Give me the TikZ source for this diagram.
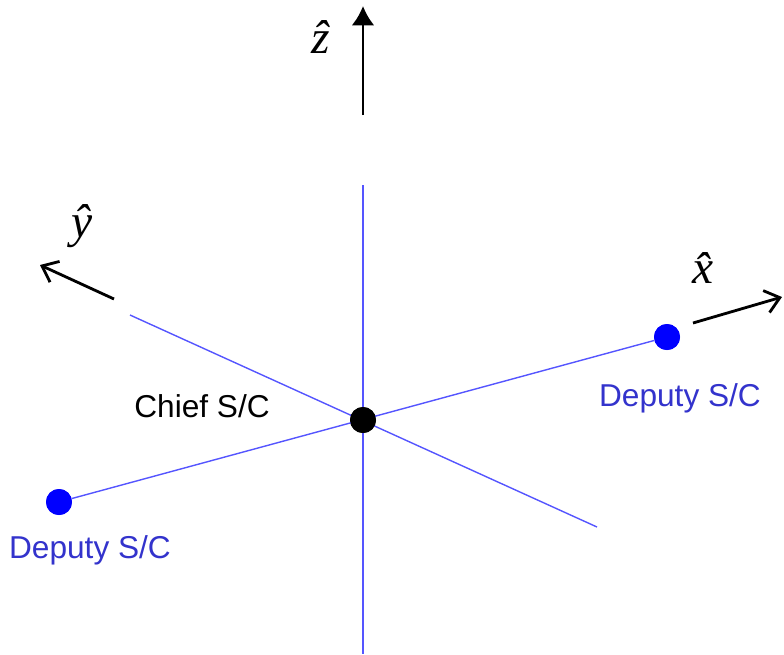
\documentclass[tikz,border=0pt]{standalone}
\usepackage{fontspec}
\newfontfamily\arialfont{Liberation Sans}
\newfontfamily\timesfont{Liberation Serif}
\usetikzlibrary{arrows.meta}
\definecolor{axisblue}{RGB}{85,85,255}
\definecolor{labelblue}{RGB}{51,51,204}
\tikzset{
	sc/.style={circle,inner sep=0pt,minimum size=0.52cm},
	sclabel/.style={font=\arialfont\fontsize{18}{20}\selectfont},
	axislabel/.style={font=\timesfont\itshape\fontsize{27}{30}\selectfont},
	frameline/.style={axisblue,line width=0.8pt},
}
\begin{document}
\begin{tikzpicture}[x=0.02cm,y=-0.02cm]
		\useasboundingbox (0,0) rectangle (784,654);

		% Spacecraft
		\node[sc,fill=black] (chief) at (363,420) {};
		\node[sc,fill=blue] (depL) at (59,502) {};
		\node[sc,fill=blue] (depR) at (667,337) {};

		% Blue lines through the chief
		\coordinate (ztop) at (363,185);
		\coordinate (zbot) at (363,654);
		\coordinate (ytop) at (130,315);
		\coordinate (ybot) at (597,527);
		\draw[frameline] (ztop) -- (zbot);
		\draw[frameline] (ytop) -- (ybot);
		\draw[frameline] (depL) -- (depR);
		\node[sc,fill=black] at (chief) {};
		\node[sc,fill=blue] at (depL) {};
		\node[sc,fill=blue] at (depR) {};

		% Axes
		\coordinate (zs) at (363,115);
		\coordinate (ze) at (363,6);
		\coordinate (ys) at (114,299);
		\coordinate (ye) at (40,265);
		\coordinate (xs) at (693,323);
		\coordinate (xe) at (782,297);
		\draw[line width=1.6pt,-{Latex[length=11pt,width=13pt]}] (zs) -- (ze);
		\draw[line width=1.6pt,-{Straight Barb[length=8pt,width=13pt]}] (ys) -- (ye);
		\draw[line width=1.6pt,-{Straight Barb[length=8pt,width=13pt]}] (xs) -- (xe);

		\node[axislabel] (zlab) at (321,37) {\^{z}};
		\node[axislabel] (ylab) at (82,226) {\^{y}};
		\node[axislabel] (xlab) at (703,268) {\^{x}};

		% Labels
		\node[sclabel] (chieflab) at (202,406) {Chief S/C};
		\node[sclabel,labelblue] (depRlab) at (680,398) {Deputy S/C};
		\node[sclabel,labelblue] (depLlab) at (90,550) {Deputy S/C};
\end{tikzpicture}
\end{document}
